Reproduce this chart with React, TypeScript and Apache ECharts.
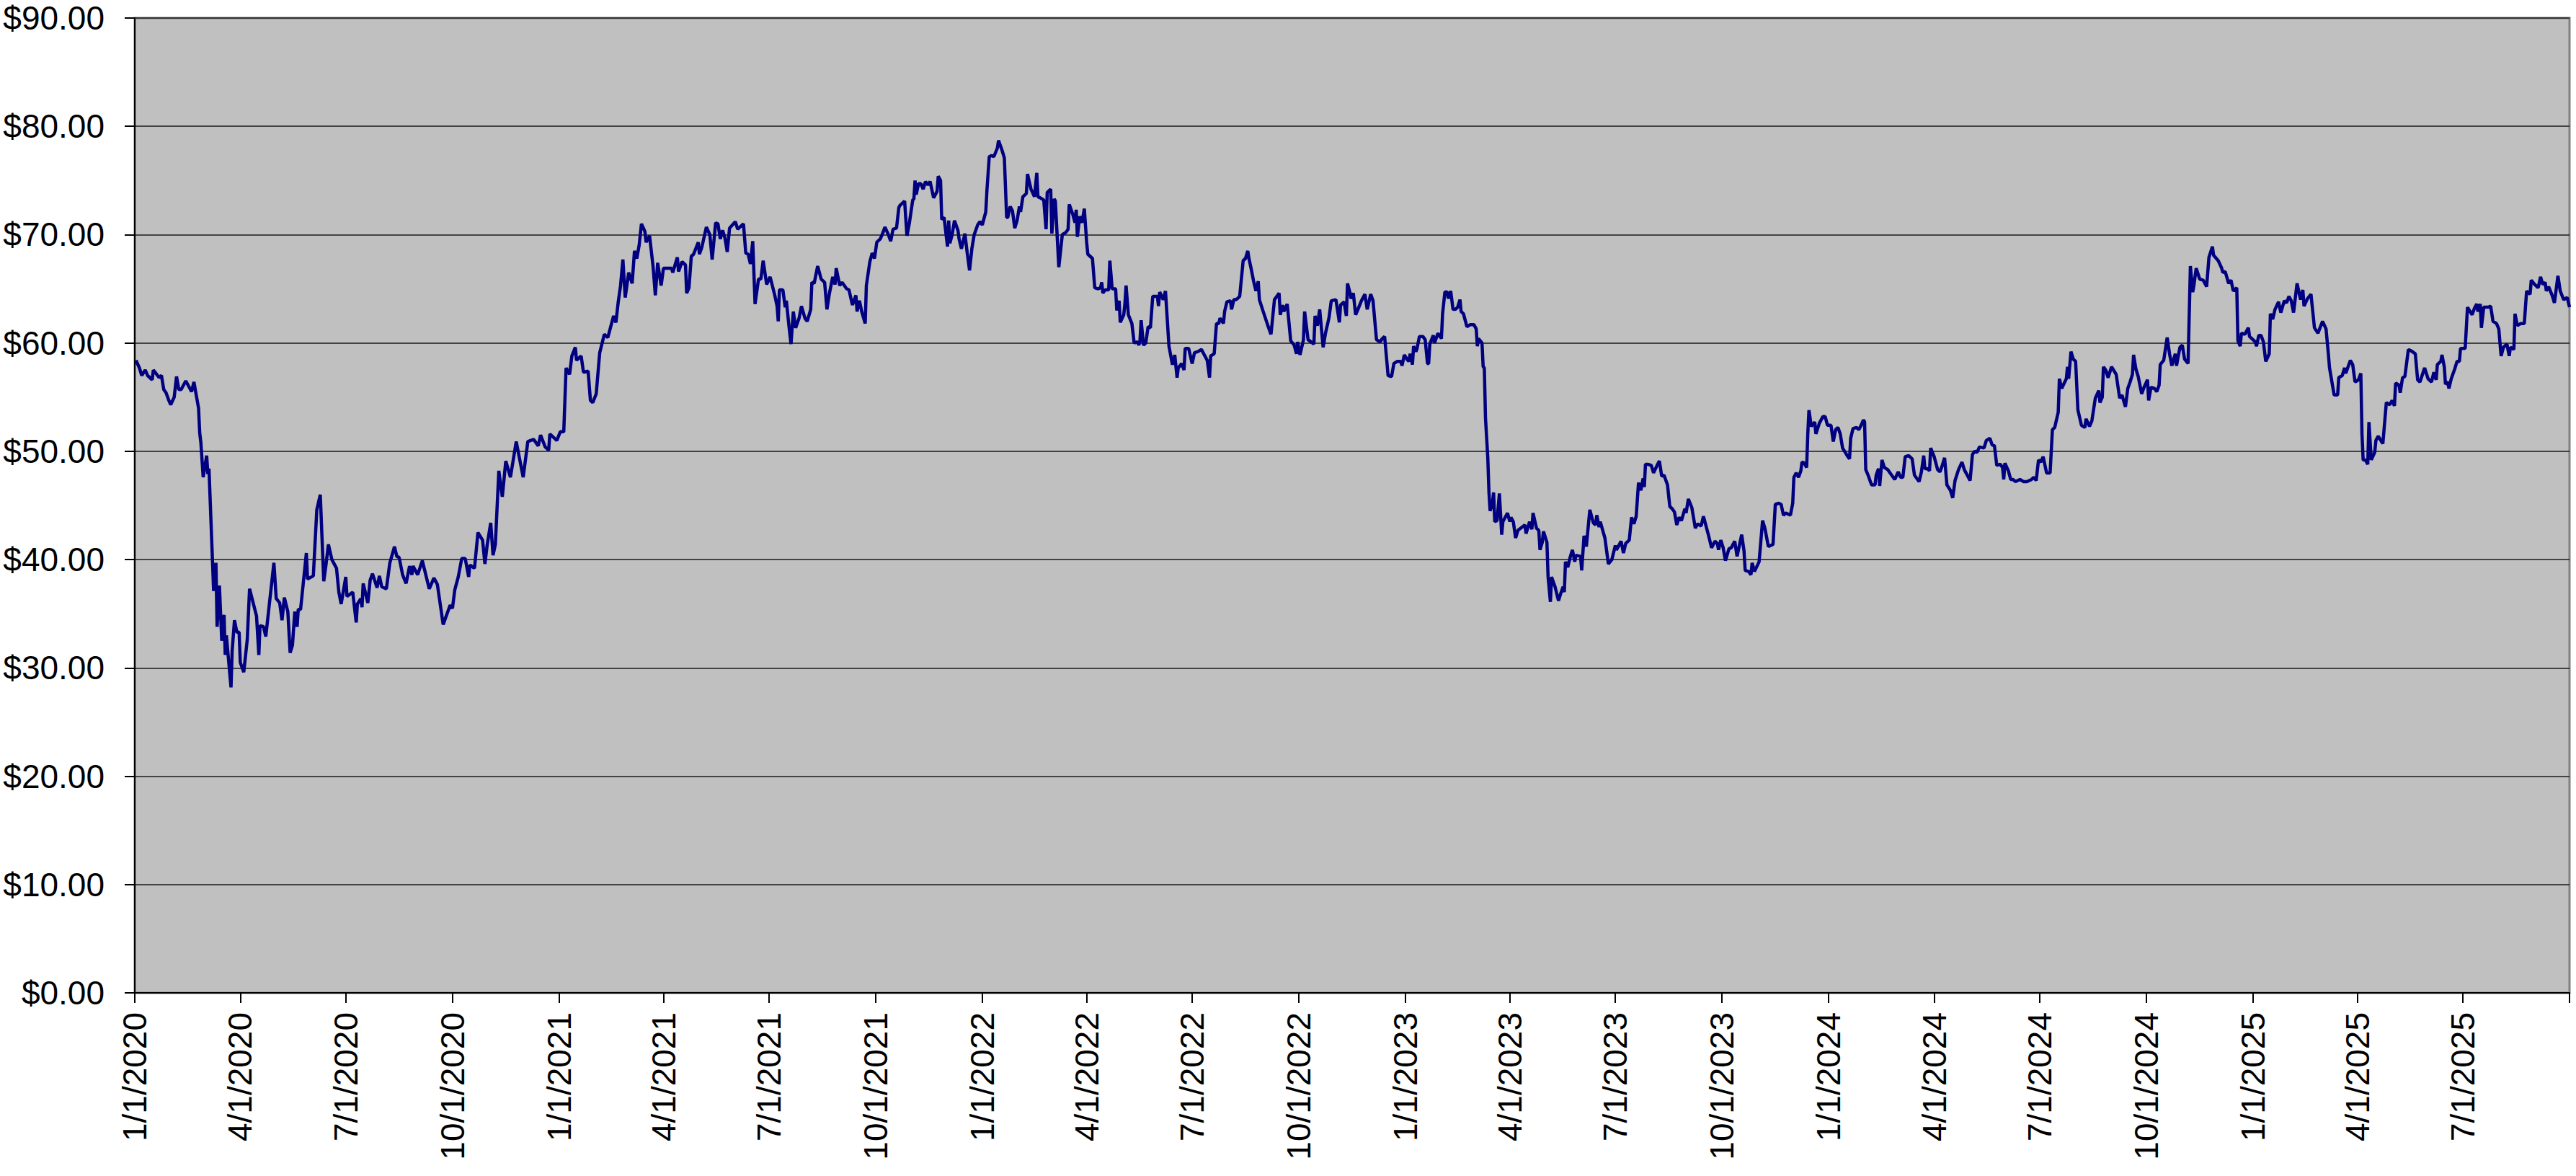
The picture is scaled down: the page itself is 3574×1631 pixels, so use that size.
import React, { useEffect, useRef } from "react";
import * as echarts from "echarts";

// Day offsets are counted from 1/1/2020; the x axis runs to 10/1/2025 (day 2100).
const START_UTC = Date.UTC(2020, 0, 1);
const AXIS_DAYS = 2100;
const DAY_MS = 86400000;

const Y_MIN = 0;
const Y_MAX = 90;
const Y_STEP = 10;

// [day offset, closing price]
const prices2020: [number, number][] = [
  [1,58.4],[4,57.7],[6,57.0],[9,57.5],[11,57.0],[15,56.6],[16,57.5],[21,56.8],[23,57.0],[25,55.7],[27,55.4],[29,54.8],[31,54.3],[34,55.0],[36,56.9],[38,55.7],[40,55.7],[44,56.5],[49,55.5],[51,56.4],[55,54.0],[56,51.7],[57,50.8],[59,47.6],[62,49.6],[63,47.9],[64,48.4],[68,37.1],[70,39.7],[71,33.8],[73,37.6],[75,32.5],[77,34.9],[78,31.2],[79,33.0],[83,28.2],[84,31.6],[86,34.4],[88,33.3],[90,33.3],[91,30.5],[94,29.6],[97,32.6],[99,37.3],[105,34.8],[107,31.2],[108,33.9],[111,33.8],[113,32.9],[120,39.7],[122,36.4],[125,36.0],[127,34.4],[129,36.5],[132,35.2],[134,31.4],[136,32.1],[138,35.2],[140,33.8],[141,35.4],[143,35.4],[148,40.6],[149,38.2],[154,38.5],[157,44.6],[160,46.0],[163,38.0],[165,39.6],[167,41.4],[170,40.0],[174,39.2],[176,37.0],[178,35.9],[182,38.4],[183,36.6],[188,37.0],[191,34.2],[192,35.9],[195,36.4],[196,35.6],[197,37.8],[201,36.0],[203,38.1],[205,38.7],[209,37.4],[211,38.5],[213,37.5],[217,37.3],[220,39.7],[224,41.2],[226,40.3],[228,40.2],[231,38.6],[234,37.8],[237,39.4],[239,38.6],[240,39.4],[244,38.6],[248,39.9],[254,37.3],[258,38.3],[261,37.7],[266,34.0],[272,35.8],[274,35.5],[276,37.2],[279,38.4],[282,40.1],[285,40.1],[288,38.4],[289,39.5],[293,39.2],[296,42.5],[300,41.8],[302,39.6],[304,41.4],[307,43.4],[309,40.4],[311,41.4],[314,48.2],[317,45.8],[320,49.1],[324,47.6],[329,50.9],[335,47.6],[339,50.9],[344,51.1],[348,50.5],[350,51.5],[354,50.4],[357,50.1],[358,51.6],[364,51.0]
];

const prices2021: [number, number][] = [
  [367,51.8],[370,51.8],[372,57.7],[375,57.1],[377,58.8],[380,59.6],[381,58.4],[385,58.8],[387,57.3],[391,57.4],[393,54.7],[395,54.5],[398,55.3],[401,59.1],[405,60.8],[408,60.5],[413,62.5],[415,61.9],[417,63.8],[419,65.3],[421,67.7],[423,64.2],[426,66.5],[429,65.5],[431,68.5],[433,67.8],[435,69.0],[437,71.0],[440,70.3],[441,69.3],[444,69.9],[447,67.1],[449,64.4],[451,67.4],[454,65.3],[456,66.9],[463,66.9],[464,66.5],[468,67.9],[469,66.6],[472,67.5],[475,67.2],[476,64.6],[478,65.1],[480,68.0],[482,68.2],[486,69.3],[487,68.2],[489,68.8],[493,70.7],[496,70.0],[498,67.7],[501,71.1],[503,71.0],[505,69.6],[507,70.4],[509,69.7],[511,68.4],[513,70.6],[518,71.2],[520,70.5],[525,71.0],[527,68.3],[529,68.2],[531,67.3],[533,69.4],[535,63.6],[538,65.9],[540,65.9],[542,67.6],[545,65.4],[548,66.1],[552,64.4],[554,63.4],[555,62.0],[556,64.9],[559,64.9],[561,63.3],[562,63.9],[564,61.8],[566,59.9],[568,62.9],[570,61.4],[573,62.3],[575,63.4],[578,62.3],[580,62.0],[583,63.1],[584,65.6],[586,65.5],[589,67.1],[592,65.9],[595,65.6],[597,63.1],[599,64.5],[602,66.1],[604,65.4],[605,66.9],[608,65.3],[610,65.6],[614,65.0],[616,64.9],[619,63.5],[622,64.4],[623,62.9],[625,63.9],[627,62.9],[630,61.8],[631,65.3],[634,67.5],[636,68.3],[638,67.8],[640,69.3],[643,69.6],[645,70.1],[647,70.7],[650,70.0],[652,69.4],[654,70.5],[657,70.6],[659,72.5],[660,72.7],[664,73.1],[666,69.9],[668,71.0],[671,73.2],[672,73.3],[673,75.0],[674,73.7],[676,74.7],[678,74.7],[680,74.2],[682,74.9],[684,74.6],[686,74.9],[689,73.4],[692,74.0],[693,75.4],[695,75.0],[696,71.4],[698,71.6],[701,68.9],[702,71.3],[703,69.2],[705,70.0],[707,71.3],[710,70.4],[711,69.6],[713,68.7],[716,70.1],[718,68.3],[720,66.7],[722,68.7],[724,70.0],[727,70.9],[729,71.2]
];

const prices2022: [number, number][] = [
  [731,70.9],[734,72.1],[735,74.1],[737,77.2],[739,77.3],[741,77.2],[744,78.0],[745,78.7],[748,77.8],[750,77.1],[752,71.6],[753,71.6],[755,72.6],[757,72.2],[759,70.6],[761,71.3],[763,72.6],[764,72.1],[766,73.5],[769,73.8],[770,75.6],[773,74.2],[776,73.5],[778,75.7],[779,73.5],[781,73.4],[784,73.2],[786,70.5],[787,73.9],[790,74.2],[791,70.1],[793,73.3],[794,73.1],[797,67.0],[800,70.0],[803,70.2],[805,70.5],[806,72.8],[809,71.9],[811,71.1],[812,72.3],[813,69.8],[815,71.7],[817,71.1],[819,72.4],[821,69.3],[822,68.2],[826,67.8],[828,65.1],[831,65.0],[833,65.1],[834,65.6],[835,64.6],[837,64.9],[840,64.9],[841,67.6],[843,65.0],[846,65.0],[847,63.0],[849,63.9],[850,61.9],[853,62.6],[854,63.6],[855,65.3],[857,62.6],[860,61.8],[862,60.0],[865,60.1],[866,59.8],[867,60.2],[868,62.1],[870,59.8],[872,60.0],[874,61.5],[876,61.4],[878,64.3],[881,64.3],[882,64.3],[883,63.4],[884,64.7],[887,64.0],[889,64.8],[892,59.7],[895,58.0],[897,58.9],[899,56.8],[900,57.7],[903,58.1],[905,57.5],[906,59.5],[909,59.5],[912,58.1],[914,59.1],[917,59.2],[920,59.4],[923,58.8],[925,58.4],[927,56.8],[928,58.8],[931,59.0],[933,61.8],[935,61.8],[936,62.3],[939,61.8],[940,62.9],[942,63.8],[945,63.9],[946,63.1],[948,64.0],[950,64.0],[953,64.3],[956,67.6],[958,67.8],[960,68.5],[961,67.8],[963,66.8],[965,65.7],[967,64.8],[969,65.7],[970,64.0],[973,63.0],[977,61.7],[980,60.8],[983,64.0],[987,64.6],[988,62.6],[990,63.5],[991,62.9],[994,63.6],[997,60.2],[1000,59.8],[1002,59.0],[1003,60.1],[1005,58.9],[1008,60.3],[1009,62.9],[1012,60.3],[1017,59.9],[1018,62.5],[1020,61.6],[1022,63.1],[1025,59.6],[1027,60.9],[1030,62.3],[1032,63.9],[1036,64.0],[1039,61.9],[1040,63.5],[1043,63.8],[1045,62.5],[1046,65.5],[1048,64.7],[1049,64.1],[1051,64.6],[1053,62.6],[1055,63.1],[1058,63.9],[1061,64.5],[1063,63.1],[1066,64.5],[1068,63.9],[1071,60.3],[1074,60.1],[1076,60.4],[1078,60.6],[1081,57.0],[1084,56.9],[1086,58.1],[1089,58.3],[1092,58.3],[1093,57.9],[1095,58.9]
];

const prices2023: [number, number][] = [
  [1098,58.4],[1099,58.3],[1100,59.0],[1102,58.0],[1103,59.7],[1105,59.2],[1106,59.5],[1108,60.6],[1111,60.6],[1113,60.3],[1115,58.1],[1116,58.1],[1117,59.9],[1120,60.7],[1121,60.0],[1124,60.9],[1127,60.4],[1128,62.7],[1130,64.7],[1132,64.7],[1133,64.1],[1135,64.8],[1137,63.1],[1139,63.1],[1141,63.3],[1143,64.0],[1144,62.9],[1146,62.7],[1149,61.5],[1152,61.7],[1155,61.7],[1157,61.3],[1158,59.7],[1159,60.4],[1162,60.0],[1163,57.8],[1164,57.7],[1165,53.1],[1167,49.4],[1168,46.2],[1169,44.5],[1171,45.2],[1172,46.2],[1173,43.5],[1175,43.6],[1177,46.1],[1179,42.3],[1180,43.5],[1184,44.3],[1186,43.5],[1187,43.9],[1189,43.5],[1191,42.0],[1193,42.7],[1199,43.2],[1200,42.4],[1203,43.5],[1205,42.8],[1206,44.3],[1209,42.9],[1211,42.7],[1212,40.9],[1214,41.6],[1215,42.6],[1218,41.6],[1219,38.4],[1221,36.1],[1222,38.4],[1225,37.5],[1228,36.2],[1230,36.9],[1232,37.5],[1233,37.0],[1234,39.8],[1236,39.3],[1238,40.2],[1240,40.9],[1242,39.8],[1243,40.4],[1247,40.3],[1248,39.0],[1250,42.2],[1252,41.2],[1255,44.6],[1258,43.4],[1260,43.2],[1261,44.1],[1263,43.0],[1264,43.5],[1268,42.0],[1271,39.6],[1274,40.0],[1277,41.3],[1278,40.9],[1282,41.7],[1284,40.6],[1286,41.5],[1289,41.8],[1291,43.9],[1293,43.3],[1295,44.0],[1297,47.1],[1299,46.4],[1301,47.5],[1302,46.7],[1303,48.8],[1305,48.8],[1308,48.7],[1310,48.0],[1313,48.7],[1315,49.1],[1317,47.7],[1319,47.8],[1322,46.9],[1324,44.9],[1326,44.7],[1328,44.4],[1330,43.2],[1332,43.9],[1334,43.6],[1337,44.7],[1338,44.3],[1340,45.6],[1343,44.8],[1346,42.9],[1348,43.3],[1351,43.1],[1353,44.0],[1357,42.4],[1360,41.1],[1363,41.7],[1365,41.5],[1366,40.9],[1368,41.8],[1370,41.1],[1372,39.9],[1375,41.0],[1377,41.1],[1380,41.7],[1382,40.3],[1384,41.3],[1386,42.3],[1388,40.8],[1389,39.0],[1392,38.9],[1394,38.6],[1395,39.7],[1397,38.9],[1401,39.8],[1404,43.6],[1406,42.9],[1409,41.2],[1413,41.4],[1415,45.1],[1418,45.2],[1420,45.1],[1422,44.1],[1424,44.3],[1428,44.1],[1430,45.2],[1431,47.6],[1433,48.0],[1435,47.6],[1437,48.2],[1438,49.0],[1440,48.9],[1442,48.5],[1443,51.6],[1444,53.8],[1446,52.3],[1449,52.7],[1450,51.6],[1453,52.6],[1456,53.2],[1458,53.2],[1460,52.4]
];

const prices2024: [number, number][] = [
  [1463,52.4],[1465,50.9],[1467,52.0],[1469,52.2],[1471,51.6],[1473,50.3],[1477,49.6],[1479,49.3],[1480,51.2],[1482,52.1],[1485,52.2],[1487,52.0],[1489,52.4],[1491,52.9],[1492,52.7],[1493,48.3],[1495,47.8],[1498,46.9],[1501,46.9],[1502,47.8],[1504,48.4],[1505,46.8],[1507,49.2],[1509,48.5],[1512,48.3],[1514,48.0],[1518,47.4],[1521,48.1],[1523,47.6],[1525,47.6],[1527,49.5],[1530,49.6],[1533,49.3],[1535,47.8],[1537,47.5],[1539,47.2],[1541,48.1],[1543,49.6],[1544,48.4],[1546,48.4],[1548,48.2],[1549,50.3],[1552,49.5],[1555,48.3],[1557,48.1],[1559,48.7],[1561,49.4],[1563,46.9],[1566,46.4],[1568,45.7],[1570,47.3],[1573,48.3],[1576,49.0],[1578,48.3],[1580,47.9],[1583,47.3],[1585,49.7],[1587,50.0],[1589,49.9],[1591,50.4],[1595,50.3],[1597,51.0],[1600,51.2],[1602,50.6],[1604,50.5],[1606,48.7],[1609,48.8],[1611,48.5],[1612,47.4],[1613,48.9],[1616,48.2],[1618,47.4],[1620,47.4],[1622,47.2],[1626,47.4],[1629,47.2],[1632,47.2],[1636,47.4],[1638,47.6],[1640,47.3],[1642,49.2],[1644,49.0],[1646,49.5],[1649,48.0],[1652,48.0],[1654,52.0],[1656,52.2],[1659,53.6],[1660,56.7],[1662,55.8],[1666,56.7],[1667,57.8],[1668,56.7],[1670,59.2],[1672,58.5],[1674,58.3],[1676,53.8],[1679,52.4],[1682,52.2],[1683,53.0],[1686,52.3],[1688,52.8],[1691,54.9],[1694,55.6],[1695,54.5],[1697,55.0],[1698,57.8],[1700,57.5],[1702,56.8],[1705,57.8],[1709,57.1],[1712,54.9],[1714,55.2],[1717,54.1],[1719,55.8],[1721,56.4],[1723,57.1],[1724,58.9],[1726,57.6],[1728,56.9],[1731,55.3],[1733,55.9],[1736,56.6],[1737,54.7],[1739,55.9],[1742,55.8],[1744,55.5],[1746,56.1],[1747,58.0],[1750,58.4],[1753,60.5],[1755,59.0],[1757,57.9],[1760,59.0],[1761,57.9],[1764,59.6],[1766,59.8],[1768,58.5],[1771,58.1],[1773,67.1],[1775,64.7],[1776,65.3],[1778,66.9],[1781,65.9],[1784,65.8],[1787,65.2],[1789,67.9],[1792,68.9],[1793,68.1],[1797,67.6],[1800,66.9],[1801,66.5],[1803,66.6],[1806,65.5],[1808,65.8],[1810,64.8],[1813,65.1],[1814,60.2],[1816,59.7],[1817,60.9],[1820,60.8],[1823,61.4],[1824,60.6]
];

const prices2025: [number, number][] = [
  [1829,60.1],[1830,59.7],[1832,60.7],[1834,60.7],[1836,60.1],[1838,58.3],[1841,59.0],[1842,62.7],[1844,62.2],[1846,63.1],[1849,63.8],[1851,62.8],[1854,63.9],[1856,63.7],[1858,64.3],[1860,63.9],[1862,62.8],[1865,65.5],[1868,64.0],[1870,64.9],[1871,63.4],[1874,64.1],[1877,64.5],[1880,61.4],[1883,60.9],[1887,62.0],[1890,61.3],[1892,59.0],[1893,57.7],[1897,55.2],[1900,55.2],[1901,56.8],[1904,57.0],[1906,57.7],[1907,57.2],[1911,58.4],[1913,58.0],[1915,56.4],[1918,56.6],[1920,57.2],[1921,51.6],[1922,49.2],[1924,49.2],[1926,48.8],[1927,52.7],[1929,49.2],[1932,49.9],[1933,51.0],[1935,51.4],[1939,50.7],[1942,54.5],[1945,54.3],[1947,54.7],[1949,54.2],[1950,56.3],[1953,56.1],[1954,55.4],[1956,56.8],[1958,56.9],[1961,59.4],[1963,59.3],[1967,59.0],[1969,56.6],[1971,56.4],[1975,57.7],[1978,56.7],[1981,56.4],[1983,57.3],[1985,56.6],[1986,58.0],[1989,58.3],[1990,58.9],[1992,57.8],[1993,56.2],[1995,56.4],[1996,55.8],[1998,56.7],[2001,57.6],[2003,58.3],[2005,58.3],[2006,59.5],[2010,59.5],[2012,63.3],[2016,62.6],[2018,63.2],[2020,63.6],[2021,62.9],[2023,63.6],[2024,61.4],[2026,63.3],[2030,63.3],[2032,63.4],[2034,62.0],[2037,61.8],[2039,61.3],[2041,58.8],[2043,59.6],[2046,59.9],[2048,58.8],[2049,59.6],[2052,59.4],[2053,62.7],[2055,61.6],[2058,61.8],[2061,61.8],[2063,64.8],[2066,64.5],[2067,65.8],[2070,65.4],[2073,65.1],[2075,66.1],[2077,65.4],[2079,65.6],[2080,64.8],[2082,65.2],[2085,64.4],[2087,63.7],[2090,66.2],[2092,64.8],[2095,64.0],[2098,64.2],[2100,63.3]
];

const dayDate = (i: number) => new Date(START_UTC + i * DAY_MS);
const dayLabel = (i: number) => {
  const d = dayDate(i);
  return `${d.getUTCMonth() + 1}/${d.getUTCDate()}/${d.getUTCFullYear()}`;
};
const isQuarterStart = (i: number) => {
  const d = dayDate(i);
  return d.getUTCDate() === 1 && d.getUTCMonth() % 3 === 0;
};

const categories = Array.from({ length: AXIS_DAYS + 1 }, (_, i) => dayLabel(i));

const FONT = '"Liberation Sans", Arial, Helvetica, sans-serif';

export default function App() {
  const ref = useRef<HTMLDivElement>(null);

  useEffect(() => {
    if (!ref.current) return;
    const chart = echarts.init(ref.current, null, { renderer: "svg" });
    const all = [...prices2020, ...prices2021, ...prices2022, ...prices2023, ...prices2024, ...prices2025];
    const seriesData = all.map(([d, v]) => [categories[d], v]);

    chart.setOption({
      animation: false,
      backgroundColor: "#ffffff",
      grid: {
        left: 187,
        right: 9,
        top: 25,
        bottom: 254,
        show: true,
        backgroundColor: "#C0C0C0",
        borderColor: "#808080",
        borderWidth: 3,
        containLabel: false,
      },
      xAxis: {
        type: "category",
        data: categories,
        boundaryGap: false,
        axisLine: { show: true, onZero: false, lineStyle: { color: "#000", width: 2 } },
        axisTick: {
          show: true,
          interval: (i: number) => isQuarterStart(i),
          length: 14,
          lineStyle: { color: "#000", width: 2 },
        },
        axisLabel: {
          show: true,
          interval: (i: number) => isQuarterStart(i) && i < AXIS_DAYS,
          rotate: 90,
          margin: 27,
          fontSize: 46,
          fontFamily: FONT,
          color: "#000",
        },
        splitLine: { show: false },
      },
      yAxis: {
        type: "value",
        min: Y_MIN,
        max: Y_MAX,
        interval: Y_STEP,
        axisLine: { show: true, lineStyle: { color: "#000", width: 2 } },
        axisTick: { show: true, length: 14, lineStyle: { color: "#000", width: 2 } },
        axisLabel: {
          formatter: (v: number) => "$" + v.toFixed(2),
          fontSize: 46,
          fontFamily: FONT,
          margin: 42,
          color: "#000",
        },
        splitLine: { show: true, lineStyle: { color: "#1a1a1a", width: 1.5 } },
      },
      series: [
        {
          type: "line",
          data: seriesData,
          symbol: "none",
          showSymbol: false,
          silent: true,
          lineStyle: { color: "#000080", width: 4.5 },
          itemStyle: { color: "#000080" },
        },
      ],
    });

    return () => chart.dispose();
  }, []);

  return (
    <div
      ref={ref}
      style={{ position: "fixed", left: 0, top: 0, width: 3574, height: 1631, background: "#fff" }}
    />
  );
}
